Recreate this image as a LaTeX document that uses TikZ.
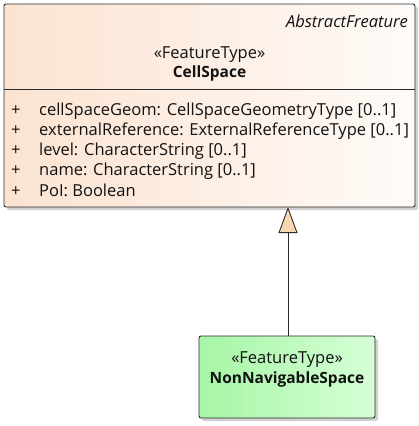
\documentclass[tikz,border=0pt]{standalone}
\usepackage{fontspec}
\setmainfont{Open Sans}
\usetikzlibrary{arrows.meta,shadows}
\definecolor{peachL}{HTML}{FBE3D1}
\definecolor{peachR}{HTML}{FFFBF8}
\definecolor{greenL}{HTML}{A6F5A6}
\definecolor{greenR}{HTML}{D6FFD6}
\definecolor{tri}{HTML}{F8D7B0}
\definecolor{edge}{HTML}{2B2B2B}
\definecolor{txt}{HTML}{111111}
\newcommand{\fsz}{\fontsize{16.5}{19}\selectfont}
\newcommand{\bsz}{\bfseries\fontsize{15.5}{19}\selectfont}
\tikzset{
  classbox/.style={draw=edge, line width=0.9pt, rounded corners=2pt,
    drop shadow={shadow xshift=3pt, shadow yshift=-3pt, fill=black!30, opacity=0.6}},
  lbl/.style={inner sep=0pt, text=txt, font=\fsz},
  gen/.style={draw=edge, line width=0.9pt, -{Triangle[open, fill=tri, length=26pt, width=19pt]}},
}
\begin{document}
\begin{tikzpicture}[x=1pt,y=-1pt]
\useasboundingbox (0,0) rectangle (418,426);
% CellSpace box
\path[classbox, left color=peachL, right color=peachR] (4,4) rectangle (415,207);
\node[coordinate] (topbox) at (288,207) {};
\draw[edge, line width=0.9pt] (4,89) -- (415,89);
\node[lbl, anchor=base east, font=\itshape\fsz] (abs) at (408,27.5) {AbstractFreature};
\node[lbl, anchor=base] (st1) at (209.5,58) {«FeatureType»};
\node[lbl, anchor=base, font=\bsz] (nm1) at (209.5,77) {CellSpace};
\foreach \t [count=\i] in {{cellSpaceGeom: CellSpaceGeometryType [0..1]},{externalReference: ExternalReferenceType [0..1]},{level: CharacterString [0..1]},{name: CharacterString [0..1]},{PoI: Boolean}}{
  \node[lbl, anchor=base west] (p\i) at (11,95+\i*20.2) {+};
  \node[lbl, anchor=base west] (a\i) at (39,95+\i*20.2) {\t};
}
% NonNavigableSpace box
\path[classbox, left color=greenL, right color=greenR] (199,336) rectangle (375,418);
\node[coordinate] (botbox) at (288,336) {};
\node[lbl, anchor=base] (st2) at (287,363) {«FeatureType»};
\node[lbl, anchor=base, font=\bsz] (nm2) at (287,383) {NonNavigableSpace};
\draw[gen] (botbox) -- (topbox);
\end{tikzpicture}
\end{document}
